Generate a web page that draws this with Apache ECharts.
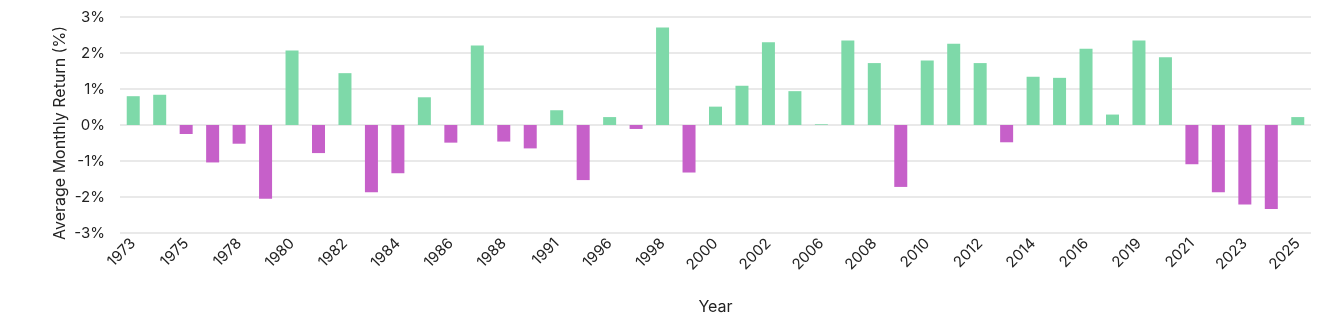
<!DOCTYPE html>
<html>
<head>
<meta charset="utf-8">
<script src="https://cdn.jsdelivr.net/npm/echarts@6/dist/echarts.min.js"></script>
<style>
  html, body { margin: 0; padding: 0; background: #ffffff; }
  #chart { width: 1339px; height: 325px; }
</style>
</head>
<body>
<div id="chart"></div>
<script>
// Years on the category axis (every other label is shown)
const years = [
  '1973', '1974', '1975', '1977', '1978', '1979', '1980', '1981', '1982', '1983',
  '1984', '1985', '1986', '1987', '1988', '1990', '1991', '1994', '1996', '1997',
  '1998', '1999', '2000', '2001', '2002', '2004', '2006', '2007', '2008', '2009',
  '2010', '2011', '2012', '2013', '2014', '2015', '2016', '2018', '2019', '2020',
  '2021', '2022', '2023', '2024', '2025'
];

// Average monthly return for each year, in percent
const avgMonthlyReturn = [
  0.80, 0.84, -0.25, -1.04, -0.52, -2.05, 2.07, -0.78, 1.44, -1.87,
  -1.34, 0.77, -0.49, 2.21, -0.46, -0.65, 0.41, -1.53, 0.22, -0.11,
  2.71, -1.32, 0.51, 1.09, 2.30, 0.94, 0.02, 2.35, 1.72, -1.72,
  1.79, 2.26, 1.72, -0.48, 1.34, 1.31, 2.12, 0.29, 2.35, 1.88,
  -1.09, -1.87, -2.21, -2.33, 0.22
];

const yTicks = { min: -3, max: 3, step: 1 };

const POS_COLOR = '#7ed9a9';
const NEG_COLOR = '#c660c9';
const TEXT_COLOR = '#222222';

const chart = echarts.init(document.getElementById('chart'), null, { renderer: 'canvas' });

chart.setOption({
  animation: false,
  backgroundColor: '#ffffff',
  textStyle: { fontFamily: 'Inter, "Noto Sans", sans-serif' },
  grid: { left: 120, right: 28, top: 17, bottom: 92 },
  xAxis: {
    type: 'category',
    data: years,
    name: 'Year',
    nameLocation: 'middle',
    nameGap: 66,
    nameTextStyle: { color: TEXT_COLOR, fontSize: 16 },
    axisLine: { show: false, onZero: false },
    axisTick: { show: false },
    axisLabel: {
      interval: 1,
      rotate: 45,
      color: TEXT_COLOR,
      fontSize: 15,
      margin: 8
    }
  },
  yAxis: {
    type: 'value',
    min: yTicks.min,
    max: yTicks.max,
    interval: yTicks.step,
    name: 'Average Monthly Return (%)',
    nameLocation: 'middle',
    nameGap: 52,
    nameMoveOverlap: false,
    nameTextStyle: { color: TEXT_COLOR, fontSize: 16, padding: [0, 16, 0, 0] },
    axisLine: { show: false },
    axisTick: { show: false },
    axisLabel: { color: TEXT_COLOR, fontSize: 15, margin: 15, formatter: '{value}%' },
    splitLine: { lineStyle: { color: '#e2e2e2', width: 1.5 } }
  },
  series: [{
    type: 'bar',
    barWidth: 13,
    data: avgMonthlyReturn.map(v => ({
      value: v,
      itemStyle: { color: v >= 0 ? POS_COLOR : NEG_COLOR }
    }))
  }]
});
</script>
</body>
</html>
